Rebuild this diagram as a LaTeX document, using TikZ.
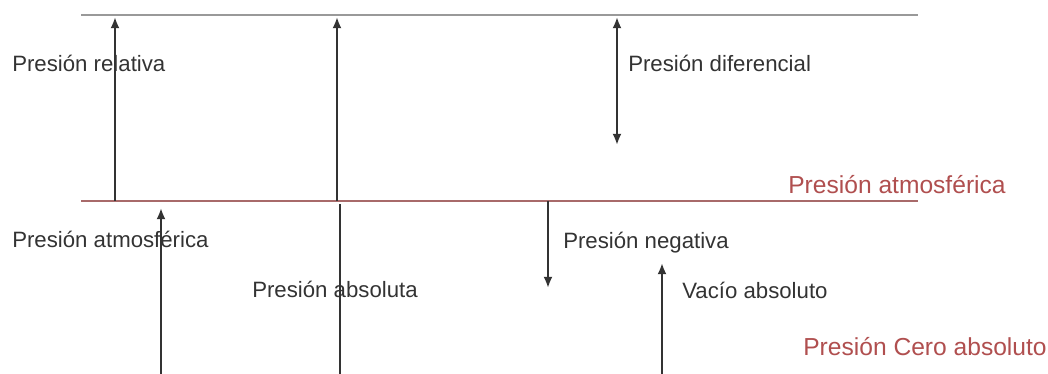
\documentclass[tikz,border=0pt]{standalone}
\usepackage{fontspec}
\setmainfont{Liberation Sans}
\usetikzlibrary{arrows.meta}

\definecolor{textgray}{HTML}{333333}
\definecolor{linegray}{HTML}{999999}
\definecolor{atmred}{HTML}{A86A6A}
\definecolor{labelred}{HTML}{B04F4F}

\begin{document}
\begin{tikzpicture}[
      level/.style={line width=1.2pt},
      pressure/.style={-{Latex[length=8pt,width=6.5pt]}, line width=1.7pt, textgray},
      label/.style={anchor=base west, inner sep=0pt, text=textgray, font=\fontsize{15.8}{18}\selectfont},
      reflabel/.style={anchor=base west, inner sep=0pt, text=labelred, font=\fontsize{17.5}{20}\selectfont}
    ]
    \useasboundingbox (0,0) rectangle (26.2,9.35);
    % Reference levels
    \coordinate (topL) at (2.025,8.975);
    \coordinate (topR) at (22.95,8.975);
    \coordinate (atmL) at (2.025,4.325);
    \coordinate (atmR) at (22.95,4.325);
    \draw [level, linegray] (topL) -- (topR);
    \draw [level, atmred] (atmL) -- (atmR);

    % Labels
    \node [label] (relativa) at (0.3,7.55) {Presión relativa};
    \node [label] (diferencial) at (15.7,7.55) {Presión diferencial};
    \node [reflabel] (atmosferica) at (19.7,4.5) {Presión atmosférica};
    \node [label] (atmbaja) at (0.3,3.15) {Presión atmosférica};
    \node [label] (absoluta) at (6.3,1.9) {Presión absoluta};
    \node [label] (negativa) at (14.075,3.125) {Presión negativa};
    \node [label] (vacio) at (17.05,1.875) {Vacío absoluto};
    \node [reflabel] (cero) at (20.075,0.45) {Presión Cero absoluto};

    % Arrow ends
    \coordinate (relA) at (2.875,4.325);
    \coordinate (relB) at (2.875,8.925);
    \coordinate (absA) at (8.425,4.325);
    \coordinate (absB) at (8.425,8.925);
    \coordinate (difA) at (15.425,8.925);
    \coordinate (difB) at (15.425,5.725);
    \coordinate (patA) at (4.025,0);
    \coordinate (patB) at (4.025,4.15);
    \coordinate (pabA) at (8.5,0);
    \coordinate (pabB) at (8.5,4.25);
    \coordinate (negA) at (13.7,4.325);
    \coordinate (negB) at (13.7,2.15);
    \coordinate (vacA) at (16.55,0);
    \coordinate (vacB) at (16.55,2.775);

    % Pressure arrows
    \draw [pressure] (relA) -- (relB);
    \draw [pressure] (absA) -- (absB);
    \draw [pressure, {Latex[length=8pt,width=6.5pt]}-{Latex[length=8pt,width=6.5pt]}] (difA) -- (difB);
    \draw [pressure] (patA) -- (patB);
    \draw [pressure, -] (pabA) -- (pabB);
    \draw [pressure] (negA) -- (negB);
    \draw [pressure] (vacA) -- (vacB);
\end{tikzpicture}
\end{document}
